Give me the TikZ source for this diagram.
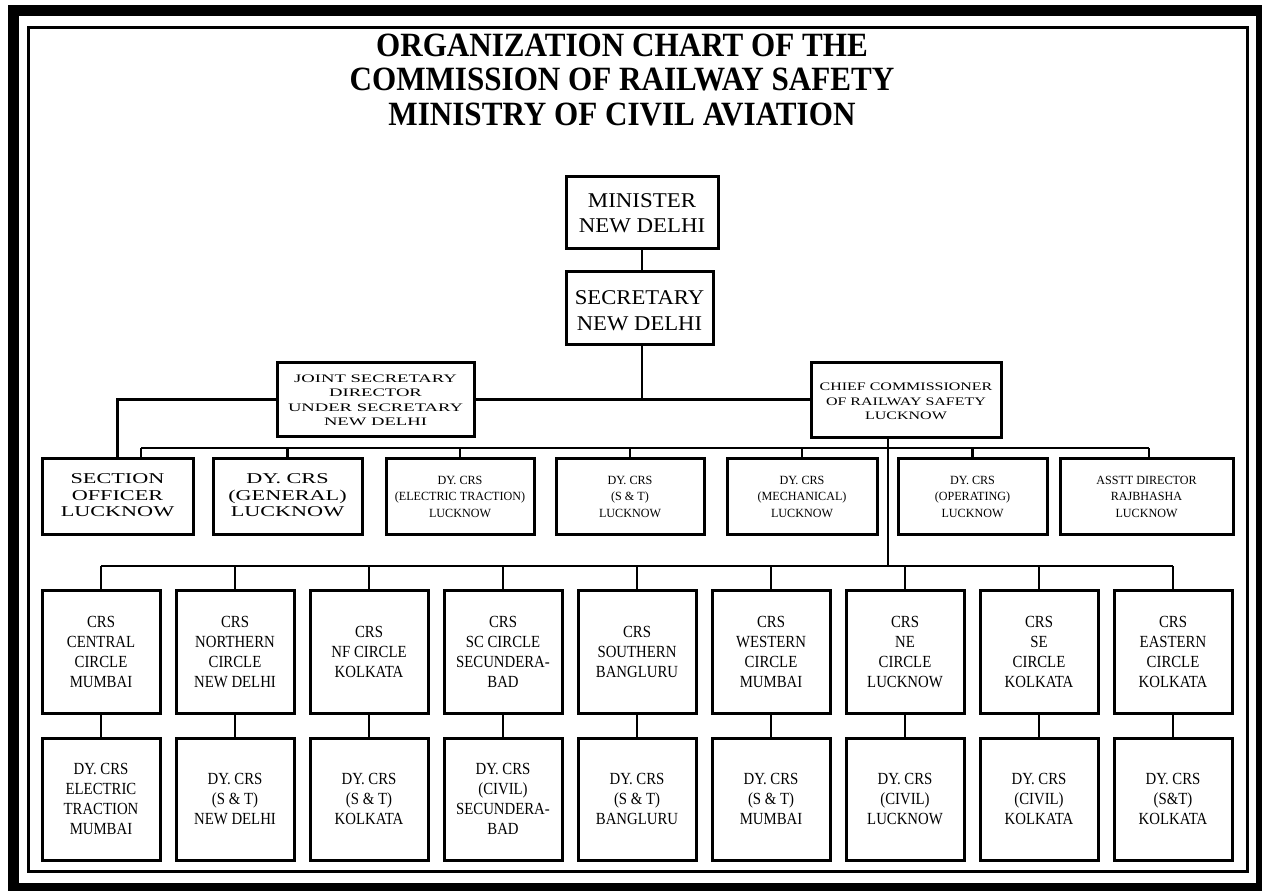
\documentclass[tikz,border=0pt]{standalone}
\usepackage{fontspec}
\setmainfont{Liberation Serif}
\usetikzlibrary{calc}
\newcommand{\boxtxt}[5]{{\fontsize{#1}{#2}\selectfont\raisebox{-#4pt}[\height][\depth]{\scalebox{#3}[1]{\begin{tabular}{@{}c@{}}#5\end{tabular}}}}}
\begin{document}
\begin{tikzpicture}[x=1pt,y=-1pt,
  box/.style={draw, line width=3pt, inner sep=0pt, align=center},
  ln/.style={line width=2.6pt},
  rowbox/.style={box, minimum width=118pt, minimum height=123pt},
  midbox/.style={box, minimum height=76pt}]
\useasboundingbox (0,0) rectangle (1262,891);
% frames
\draw[line width=11pt] (13.5,11) rectangle (1261.5,888.5);
\draw[line width=3pt] (28,27.5) rectangle (1247,871.5);
% title
\node (title) at (622,84) {\boxtxt{34}{34.5}{0.915}{0}{\bfseries ORGANIZATION CHART OF THE\\ \bfseries COMMISSION OF RAILWAY SAFETY\\ \bfseries MINISTRY OF CIVIL AVIATION}};
% top
\node[box, minimum width=152pt, minimum height=72pt] (min) at (642,212) {\boxtxt{21}{25}{1.09}{3}{MINISTER\\NEW DELHI}};
\node[box, minimum width=147pt, minimum height=73pt] (sec) at (639.5,307.5) {\boxtxt{21}{26}{1.08}{4.5}{SECRETARY\\NEW DELHI}};
\node[box, minimum width=197pt, minimum height=74pt] (js) at (375.5,399.5) {\boxtxt{11.5}{14.5}{1.62}{1.5}{JOINT SECRETARY\\DIRECTOR\\UNDER SECRETARY\\NEW DELHI}};
\node[box, minimum width=190pt, minimum height=75pt] (chief) at (906,399.5) {\boxtxt{11.5}{14.5}{1.39}{3}{CHIEF COMMISSIONER\\OF RAILWAY SAFETY\\LUCKNOW}};
% middle row
\node[midbox, minimum width=151pt] (so) at (117.5,496) {\boxtxt{15}{16.5}{1.48}{1}{SECTION\\OFFICER\\LUCKNOW}};
\node[midbox, minimum width=149pt] (gen) at (287.5,496) {\boxtxt{15}{16.5}{1.48}{1}{DY. CRS\\(GENERAL)\\LUCKNOW}};
\node[midbox, minimum width=148pt] (et) at (460,496) {\boxtxt{12.5}{16.5}{0.97}{1.5}{DY. CRS\\(ELECTRIC TRACTION)\\LUCKNOW}};
\node[midbox, minimum width=148pt] (st) at (630,496) {\boxtxt{12.5}{16.5}{0.97}{1.5}{DY. CRS\\(S \& T)\\LUCKNOW}};
\node[midbox, minimum width=150pt] (mech) at (802,496) {\boxtxt{12.5}{16.5}{0.97}{1.5}{DY. CRS\\(MECHANICAL)\\LUCKNOW}};
\node[midbox, minimum width=149pt] (op) at (972.5,496) {\boxtxt{12.5}{16.5}{0.97}{1.5}{DY. CRS\\(OPERATING)\\LUCKNOW}};
\node[midbox, minimum width=173pt] (asst) at (1146.5,496) {\boxtxt{12.5}{16.5}{0.97}{1.5}{ASSTT DIRECTOR\\RAJBHASHA\\LUCKNOW}};
% circle rows
\foreach \ctxt/\dtxt [count=\k] in {
 {CRS\\CENTRAL\\CIRCLE\\MUMBAI}/{DY. CRS\\ELECTRIC\\TRACTION\\MUMBAI},
 {CRS\\NORTHERN\\CIRCLE\\NEW DELHI}/{DY. CRS\\(S \& T)\\NEW DELHI},
 {CRS\\NF CIRCLE\\KOLKATA}/{DY. CRS\\(S \& T)\\KOLKATA},
 {CRS\\SC CIRCLE\\SECUNDERA-\\BAD}/{DY. CRS\\(CIVIL)\\SECUNDERA-\\BAD},
 {CRS\\SOUTHERN\\BANGLURU}/{DY. CRS\\(S \& T)\\BANGLURU},
 {CRS\\WESTERN\\CIRCLE\\MUMBAI}/{DY. CRS\\(S \& T)\\MUMBAI},
 {CRS\\NE\\CIRCLE\\LUCKNOW}/{DY. CRS\\(CIVIL)\\LUCKNOW},
 {CRS\\SE\\CIRCLE\\KOLKATA}/{DY. CRS\\(CIVIL)\\KOLKATA},
 {CRS\\EASTERN\\CIRCLE\\KOLKATA}/{DY. CRS\\(S\&T)\\KOLKATA}}
{
  \pgfmathsetmacro{\cx}{101+134*(\k-1)}
  \node[rowbox] (c\k) at (\cx,651.5) {\boxtxt{17}{20}{0.87}{1.5}{\ctxt}};
  \node[rowbox, minimum height=122pt] (d\k) at (\cx,799) {\boxtxt{17}{20}{0.87}{1}{\dtxt}};
  \draw[ln] (c\k.south) -- (d\k.north);
}
% connectors
\draw[ln] (min.south) -- (min.south |- sec.north);
\coordinate (j1) at (642,399.5);
\draw[ln] (sec.south -| min.south) -- (j1);
\draw[ln] (js.east) -- (chief.west);
\draw[ln] (js.west) -| (so.north);
\coordinate (cv) at (888,566);
\draw[ln] (chief.south -| cv) -- (cv);
\coordinate (mb1) at (141,448);
\coordinate (mb2) at (1149,448);
\draw[ln] (mb1) -- (mb2);
\draw[ln] (mb1) -- (mb1 |- so.north);
\draw[ln] (mb2) -- (mb2 |- asst.north);
\foreach \n in {gen,et,st,mech,op} \draw[ln] (\n.north) -- (\n.north |- mb1);
\draw[ln] (c1.north |- cv) -- (c9.north |- cv);
\foreach \k in {1,...,9} \draw[ln] (c\k.north) -- (c\k.north |- cv);
\end{tikzpicture}
\end{document}
